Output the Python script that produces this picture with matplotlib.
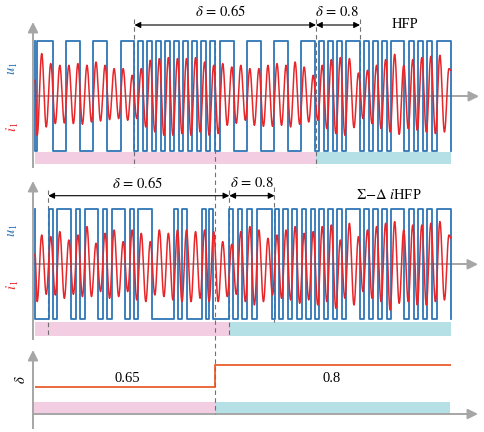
import numpy as np
import matplotlib.pyplot as plt

plt.rcParams['font.family'] = ['Liberation Serif', 'DejaVu Serif']
plt.rcParams['mathtext.fontset'] = 'stix'

BLUE = '#2e75b6'
RED = '#e8262a'
ORANGE = '#e8501c'
PINK = '#f3cde1'
CYAN = '#b5e0e6'
GREY = '#a6a6a6'
DASH = '#707070'

# time axis of the sketch (same units for every panel)
t_start, t_end = 35.0, 451.0
t_sw_hfp = 316.0        # switching time in HFP panel
t_sw_sd = 229.3         # switching time in sigma-delta panel
t_sw_delta = 215.0      # duty step in bottom panel

# high intervals of the voltage square wave u1
hfp_high = [(37.5, 53.3), (66.5, 80.5), (93.5, 107.3), (120.7, 134.3),
            (138.3, 143.3), (147.5, 152.3), (156.5, 161.3), (165.5, 170.3), (174.5, 179.3),
            (183.5, 188.3), (192.5, 197.3), (201.5, 206.3), (210.5, 215.0),
            (220.0, 234.3), (247.0, 261.0), (274.0, 288.3), (301.0, 315.5),
            (319.0, 324.0), (328.0, 333.0), (337.0, 342.0), (346.0, 360.0),
            (364.0, 369.0), (373.0, 378.0), (382.0, 387.0), (391.0, 404.5),
            (409.5, 414.5), (418.5, 423.5), (427.5, 432.5), (437.0, 451.0)]
sd_high = [(49.3, 53.3), (57.3, 70.7), (76.0, 80.0), (85.0, 98.3), (102.7, 106.7),
           (111.7, 125.0), (130.0, 134.0), (138.3, 151.7), (174.0, 178.3), (182.3, 186.7),
           (201.7, 205.7), (209.3, 213.3), (229.5, 233.5), (238.0, 242.5), (247.5, 251.7),
           (256.7, 271.7), (275.5, 279.5), (283.5, 288.3), (292.3, 297.3), (301.7, 306.0),
           (310.7, 315.0), (319.0, 324.0), (328.0, 333.0), (337.0, 342.0), (346.0, 360.0),
           (364.0, 369.0), (373.0, 378.0), (382.0, 387.0), (391.0, 404.5),
           (409.5, 414.5), (418.5, 423.5), (427.5, 432.5), (437.0, 451.0)]
u_level = 55.0

# current i1: first trough / peak time, period, and extreme values per cycle
i_trough0, i_peak0, i_period = 37.2, 41.7, 9.05
hfp_peak = [42.7, 32.7, 31, 31, 32.7, 31, 34.3, 31, 27.7, 27.7, 21,
            27.7, 36, 37.7, 38.7, 37.7, 37.7, 38.7, 34.3, 31, 32.7, 29.3,
            31, 27.7, 27.7, 31, 32.7, 31, 34.3, 29.3, 21, 31, 36.7, 38.7,
            37.7, 23.3, 26, 31, 36.7, 42, 31, 36.7, 38.7, 40, 41, 27.7]
hfp_trough = [39, 30.7, 27.3, 26.7, 27.3, 28, 25.7, 24.7, 23.3, 22.3, 24,
              22.3, 30.7, 35.7, 39, 39, 37.3, 39, 35.7, 39, 37.3, 29, 27,
              24, 29, 30, 30, 29, 30.7, 28, 25.7, 24, 32.3, 37.3, 39, 31.3,
              22.3, 27.3, 32.3, 35.7, 38, 32.3, 34, 35.7, 37.3, 35.7]
sd_peak = [29.3, 27.7, 32.7, 24.3, 29.3, 37.7, 21, 31, 34.3, 22.7, 34.3,
           31, 22.7, 34.3, 31, 34.3, 34.3, 32.7, 34.3, 32.7, 22.7, 20,
           32.7, 37.7, 34.3, 26, 29.3, 34.3, 37.7, 31, 32.7, 37.7, 39.3, 24.3,
           41, 27.7, 34.3, 37.7, 41, 42.7, 34.3, 39.3, 39.3, 41, 42.7, 29.3]
sd_trough = [37.3, 30, 30.7, 34, 30, 32.3, 32.3, 27.3, 34, 32.3, 27.3,
             35.7, 37.3, 30.7, 32.3, 35.7, 37.3, 37.3, 34, 37.3, 37.3, 32.3, 30,
             37.3, 40.7, 37.3, 30.7, 34, 35.7, 39, 35.7, 40.7, 37.3, 44, 34,
             40.7, 27.3, 34, 37.3, 45.7, 39, 37.3, 40.7, 40.7, 37.3, 35.7]

# duty ratio
delta_t = [t_start, t_sw_delta, t_end]
delta_v = [0.65, 0.8]


def square(high):
    xs = [t_start, t_start]
    ys = [u_level, -u_level]
    for a, b in high:
        xs += [a, a, b, b]
        ys += [-u_level, u_level, u_level, -u_level]
    return xs, ys


def current(peaks, troughs, v_start, v_end):
    tx = [t_start]
    vy = [v_start]
    for k in range(len(peaks)):
        tx += [i_trough0 + k * i_period, i_peak0 + k * i_period]
        vy += [-troughs[k], peaks[k]]
    tx.append(t_end)
    vy.append(v_end)
    xs, ys = [], []
    for k in range(len(tx) - 1):
        f = np.linspace(0, 1, 12)
        w = (1 - np.cos(np.pi * f)) / 2
        xs.append(tx[k] + (tx[k + 1] - tx[k]) * f)
        ys.append(vy[k] + (vy[k + 1] - vy[k]) * w)
    return np.concatenate(xs), np.concatenate(ys)


W, H = 485, 432
fig = plt.figure(figsize=(4.85, 4.32), dpi=100)
ax = fig.add_axes([0, 0, 1, 1])
ax.set_xlim(0, W)
ax.set_ylim(H, 0)
ax.axis('off')


def signal_axes(base):
    a = fig.add_axes([0, 0, 1, 1])
    a.set_xlim(0, W)
    a.set_ylim(-(H - base), base)
    a.axis('off')
    a.patch.set_alpha(0)
    return a


def axis_arrows(x0, y_bot, y_top, y_h, x_tip):
    ax.plot([x0, x0], [y_bot, y_top + 8], color=GREY, lw=1.4)
    ax.annotate('', xy=(x0, y_top), xytext=(x0, y_top + 10),
                arrowprops=dict(arrowstyle='-|>', color=GREY, lw=1.4,
                                mutation_scale=15, shrinkA=0, shrinkB=0))
    ax.plot([x0, x_tip - 8], [y_h, y_h], color=GREY, lw=1.4)
    ax.annotate('', xy=(x_tip, y_h), xytext=(x_tip - 10, y_h),
                arrowprops=dict(arrowstyle='-|>', color=GREY, lw=1.4,
                                mutation_scale=15, shrinkA=0, shrinkB=0))


def dbl_arrow(x0, x1, y):
    ax.annotate('', xy=(x1, y), xytext=(x0, y),
                arrowprops=dict(arrowstyle='<|-|>', color='black', lw=0.8,
                                mutation_scale=9, shrinkA=0, shrinkB=0))


def vdash(x, y0, y1):
    ax.plot([x, x], [y0, y1], color=DASH, lw=0.8, ls=(0, (4, 3)))


FS = 10.5

# ---- panel 1 : HFP ----
b1 = 96.3
ax.fill_between([t_start, t_sw_hfp], 152, 164, color=PINK, lw=0)
ax.fill_between([t_sw_hfp, t_end], 152, 164, color=CYAN, lw=0)
axis_arrows(33, 167, 22, b1, 479)
s1 = signal_axes(b1)
x, y = square(hfp_high)
s1.plot(x, y, color=BLUE, lw=1.3)
x, y = current(hfp_peak, hfp_trough, 16, 26)
s1.plot(x, y, color=RED, lw=1.1)
vdash(134.5, 19, 167)
vdash(316, 19, 167)
vdash(360, 19, 128)
dbl_arrow(134.5, 316, 25)
dbl_arrow(316, 360, 25)
ax.text(221, 12, r'$\delta\, =\, 0.65$', fontsize=FS, ha='center', va='center')
ax.text(337, 12, r'$\delta\, =\, 0.8$', fontsize=FS, ha='center', va='center')
ax.text(405, 25, 'HFP', fontsize=FS, ha='center', va='center')
ax.text(13, 68, r'$u_1$', fontsize=FS, color=BLUE, rotation=90, ha='center', va='center')
ax.text(13, 127, r'$i_1$', fontsize=FS, color=RED, rotation=90, ha='center', va='center')

# ---- panel 2 : sigma-delta iHFP ----
b2 = 264.3
ax.fill_between([t_start, t_sw_sd], 322, 335.5, color=PINK, lw=0)
ax.fill_between([t_sw_sd, t_end], 322, 335.5, color=CYAN, lw=0)
axis_arrows(33, 339, 181, b2, 478)
s2 = signal_axes(b2)
x, y = square(sd_high)
s2.plot(x, y, color=BLUE, lw=1.3)
x, y = current(sd_peak, sd_trough, 10, 26)
s2.plot(x, y, color=RED, lw=1.1)
vdash(48.3, 190, 337)
vdash(229.3, 190, 336)
vdash(274.5, 187, 322)
dbl_arrow(48.3, 229.3, 195.7)
dbl_arrow(229.3, 274.5, 195.7)
ax.text(137.5, 183, r'$\delta\, =\, 0.65$', fontsize=FS, ha='center', va='center')
ax.text(252, 183, r'$\delta\, =\, 0.8$', fontsize=FS, ha='center', va='center')
ax.text(389, 195, r'$\Sigma$$-$$\Delta$ $i$HFP', fontsize=FS, ha='center', va='center')
ax.text(13, 230, r'$u_1$', fontsize=FS, color=BLUE, rotation=90, ha='center', va='center')
ax.text(13, 285, r'$i_1$', fontsize=FS, color=RED, rotation=90, ha='center', va='center')

# ---- panel 3 : duty ratio ----
ax.fill_between([33.5, t_sw_delta], 401.7, 414, color=PINK, lw=0)
ax.fill_between([t_sw_delta, 450.5], 401.7, 414, color=CYAN, lw=0)
axis_arrows(33, 428, 350, 414, 478)
vdash(215, 40, 414)
s3 = fig.add_axes([0, 0, 1, 1])
s3.set_xlim(0, W)
px_per_unit = 22 / 0.15
zero_px = 387.3 + 0.65 * px_per_unit
s3.set_ylim((zero_px - H) / px_per_unit, zero_px / px_per_unit)
s3.axis('off')
s3.patch.set_alpha(0)
s3.stairs(delta_v, delta_t, color=ORANGE, lw=1.2, baseline=None)
ax.text(127.5, 378, '0.65', fontsize=FS, ha='center', va='center')
ax.text(332, 379, '0.8', fontsize=FS, ha='center', va='center')
ax.text(21, 380, r'$\delta$', fontsize=FS, rotation=90, ha='center', va='center')

fig.savefig('out.png', dpi=100)
